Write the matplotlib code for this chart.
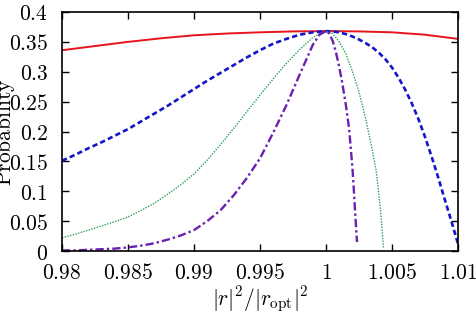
import matplotlib
matplotlib.use("Agg")
import matplotlib.pyplot as plt
from matplotlib.ticker import FixedLocator

plt.rcParams['mathtext.fontset'] = 'cm'
plt.rcParams['font.family'] = ['DejaVu Serif']

# Data
red_x = [0.98, 0.9825, 0.985, 0.9875, 0.99, 0.9925, 0.995, 0.9975, 1.0, 1.0025, 1.005, 1.0075, 1.01]
red_y = [0.336, 0.343, 0.350, 0.356, 0.361, 0.364, 0.366, 0.3675, 0.368, 0.3675, 0.366, 0.362, 0.355]

blue_x = [0.98, 0.981, 0.982, 0.983, 0.984, 0.985, 0.986, 0.987, 0.988, 0.989, 0.99, 0.991,
          0.992, 0.993, 0.994, 0.995, 0.996, 0.997, 0.998, 0.999, 1.0, 1.0005, 1.001, 1.0015,
          1.002, 1.0025, 1.003, 1.0035, 1.004, 1.0045, 1.005, 1.0055, 1.006, 1.0065, 1.007,
          1.0075, 1.008, 1.0085, 1.009, 1.0095, 1.01]
blue_y = [0.151, 0.161, 0.172, 0.182, 0.193, 0.204, 0.217, 0.230, 0.243, 0.257, 0.271, 0.285,
          0.298, 0.311, 0.324, 0.336, 0.347, 0.355, 0.362, 0.366, 0.368, 0.3675, 0.366, 0.363,
          0.359, 0.354, 0.348, 0.341, 0.332, 0.321, 0.307, 0.290, 0.270, 0.247, 0.221,
          0.191, 0.158, 0.123, 0.086, 0.050, 0.012]

green_x = [0.98, 0.981, 0.982, 0.983, 0.984, 0.985, 0.986, 0.987, 0.988, 0.989, 0.99, 0.991,
           0.992, 0.993, 0.994, 0.995, 0.996, 0.997, 0.998, 0.999, 0.9995, 1.0, 1.0005, 1.001,
           1.0015, 1.002, 1.0025, 1.003, 1.0035, 1.0038, 1.004, 1.0042, 1.00435]
green_y = [0.022, 0.028, 0.035, 0.042, 0.049, 0.057, 0.068, 0.080, 0.095, 0.111, 0.129, 0.152,
           0.178, 0.205, 0.233, 0.261, 0.288, 0.314, 0.337, 0.357, 0.364, 0.368, 0.364, 0.350,
           0.330, 0.301, 0.266, 0.222, 0.170, 0.134, 0.096, 0.052, 0.006]

purple_x = [0.98, 0.981, 0.982, 0.983, 0.984, 0.985, 0.986, 0.987, 0.988, 0.989, 0.99, 0.991,
            0.992, 0.993, 0.994, 0.995, 0.996, 0.997, 0.998, 0.999, 0.9995, 1.0, 1.00025,
            1.0005, 1.00075, 1.001, 1.00125, 1.0015, 1.00175, 1.002, 1.0021, 1.0022, 1.0023,
            1.00235]
purple_y = [0.001, 0.001, 0.002, 0.003, 0.004, 0.006, 0.009, 0.013, 0.019, 0.026, 0.035, 0.050,
            0.068, 0.093, 0.122, 0.155, 0.198, 0.244, 0.295, 0.345, 0.362, 0.368, 0.364,
            0.352, 0.333, 0.308, 0.279, 0.245, 0.205, 0.140, 0.105, 0.068, 0.032,
            0.015]

x_ticks = [0.98, 0.985, 0.99, 0.995, 1.0, 1.005, 1.01]
x_tick_labels = ['0.98', '0.985', '0.99', '0.995', '1', '1.005', '1.01']
y_ticks = [0, 0.05, 0.1, 0.15, 0.2, 0.25, 0.3, 0.35, 0.4]
y_tick_labels = ['0', '0.05', '0.1', '0.15', '0.2', '0.25', '0.3', '0.35', '0.4']

fig = plt.figure(figsize=(4.76, 3.2), dpi=100)
ax = fig.add_axes([62/476, (320-251)/320, (458-62)/476, (251-12)/320])

ax.plot(red_x, red_y, color='#e8141c', lw=1.4, ls='-')
ax.plot(blue_x, blue_y, color='#1414c8', lw=1.9, ls=(0, (2.0, 1.2)))
ax.plot(green_x, green_y, color='#2ca05a', lw=1.0, ls=(0, (1, 1)))
ax.plot(purple_x, purple_y, color='#6a20b0', lw=1.7, ls=(0, (3.5, 1.3, 1, 1.3)))

ax.set_xlim(0.98, 1.01)
ax.set_ylim(0, 0.4)
ax.xaxis.set_major_locator(FixedLocator(x_ticks))
ax.yaxis.set_major_locator(FixedLocator(y_ticks))
ax.set_xticklabels(['$' + s + '$' for s in x_tick_labels])
ax.set_yticklabels(['$' + s + '$' for s in y_tick_labels])
ax.tick_params(direction='in', length=5, width=1.0, top=True, right=True, labelsize=15.5)
ax.tick_params(axis='x', pad=8)
ax.tick_params(axis='y', pad=10)
for s in ax.spines.values():
    s.set_linewidth(1.2)

fig.text(260/476, 1 - 300/320, r'$|r|^2/|r_{\rm opt}|^2$', ha='center', va='center', fontsize=15.5)
fig.text(5/476, 1 - 132/320, r'$\mathrm{Probability}$', ha='center', va='center', rotation=90, fontsize=15.5)

fig.savefig('out.png', dpi=100)
